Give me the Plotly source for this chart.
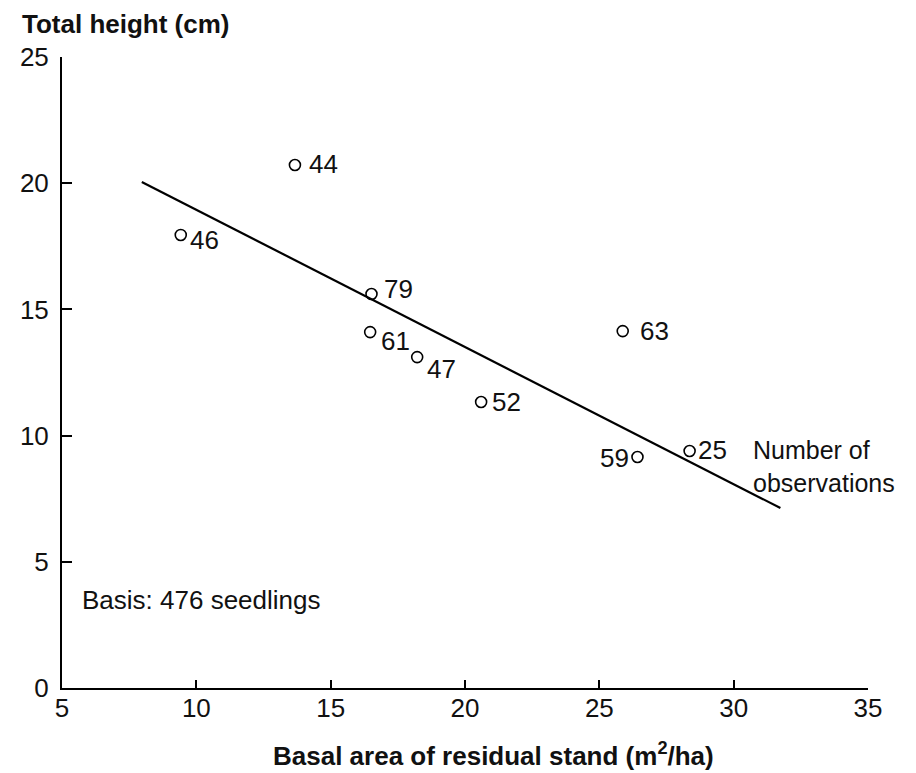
import plotly.graph_objects as go

# Data
basal_area = [13.67, 9.42, 16.52, 16.47, 18.22, 20.6, 25.87, 26.42, 28.36]
height = [20.72, 17.95, 15.61, 14.1, 13.11, 11.33, 14.14, 9.15, 9.39]
n_obs = ["44", "46", "79", "61", "47", "52", "63", "59", "25"]

fit_x = [7.97, 31.74]
fit_y = [20.05, 7.13]

x_ticks = [5, 10, 15, 20, 25, 30, 35]
y_ticks = [0, 5, 10, 15, 20, 25]

# Label placement (style): pixel offsets from each point
label_dx = [12, 7, 10, 9, 8, 9, 15, -6, 6]
label_dy = [1, -5, 5, -9, -12, 0, 0, -1, 1]
label_anchor = ["left", "left", "left", "left", "left", "left", "left", "right", "left"]

FONT = "Liberation Sans, Arial, sans-serif"
FS = 26
INK = "#111111"

fig = go.Figure()
fig.add_trace(go.Scatter(x=fit_x, y=fit_y, mode="lines",
                         line=dict(color="black", width=2.2), hoverinfo="skip"))
fig.add_trace(go.Scatter(x=basal_area, y=height, mode="markers",
                         marker=dict(symbol="circle-open", size=11, color="black",
                                     line=dict(width=1.6))))

for xv, yv, t, dx, dy, anc in zip(basal_area, height, n_obs, label_dx, label_dy, label_anchor):
    fig.add_annotation(x=xv, y=yv, xref="x", yref="y", text=t, showarrow=False,
                       xanchor=anc, yanchor="middle", xshift=dx, yshift=dy,
                       font=dict(family=FONT, size=FS, color=INK))

fig.add_annotation(x=30.66, y=8.76, xref="x", yref="y", text="Number of<br>observations",
                   showarrow=False, xanchor="left", yanchor="middle", align="left",
                   font=dict(family=FONT, size=FS - 1, color=INK))
fig.add_annotation(x=5.66, y=3.49, xref="x", yref="y", text="Basis: 476 seedlings",
                   showarrow=False, xanchor="left", yanchor="middle",
                   font=dict(family=FONT, size=FS, color=INK))
fig.add_annotation(x=(18 - 60) / 808, y=(688 - 24) / 631, xref="paper", yref="paper",
                   text="<b>Total height (cm)</b>", showarrow=False,
                   xanchor="left", yanchor="middle",
                   font=dict(family=FONT, size=26, color=INK))
fig.add_annotation(x=(493 - 60) / 808, y=(688 - 754) / 631, xref="paper", yref="paper",
                   text="<b>Basal area of residual stand (m<sup>2</sup>/ha)</b>", showarrow=False,
                   xanchor="center", yanchor="middle",
                   font=dict(family=FONT, size=26, color=INK))

fig.update_layout(
    width=916, height=773,
    margin=dict(l=52, r=56, t=49, b=93),
    paper_bgcolor="white", plot_bgcolor="white",
    showlegend=False,
    font=dict(family=FONT, size=FS, color=INK),
    xaxis=dict(range=[5, 35], tickvals=x_ticks, ticks="inside", ticklen=8, tickwidth=1.5,
               tickcolor="black", showline=True, linecolor="black", linewidth=2,
               showgrid=False, zeroline=False, ticklabelstandoff=-4,
               tickfont=dict(family=FONT, size=FS, color=INK)),
    yaxis=dict(range=[0, 25], tickvals=y_ticks, ticks="inside", ticklen=10, tickwidth=1.5,
               tickcolor="black", showline=True, linecolor="black", linewidth=2,
               showgrid=False, zeroline=False, ticklabelstandoff=6,
               tickfont=dict(family=FONT, size=FS, color=INK)),
)

fig.write_html("out.html")
